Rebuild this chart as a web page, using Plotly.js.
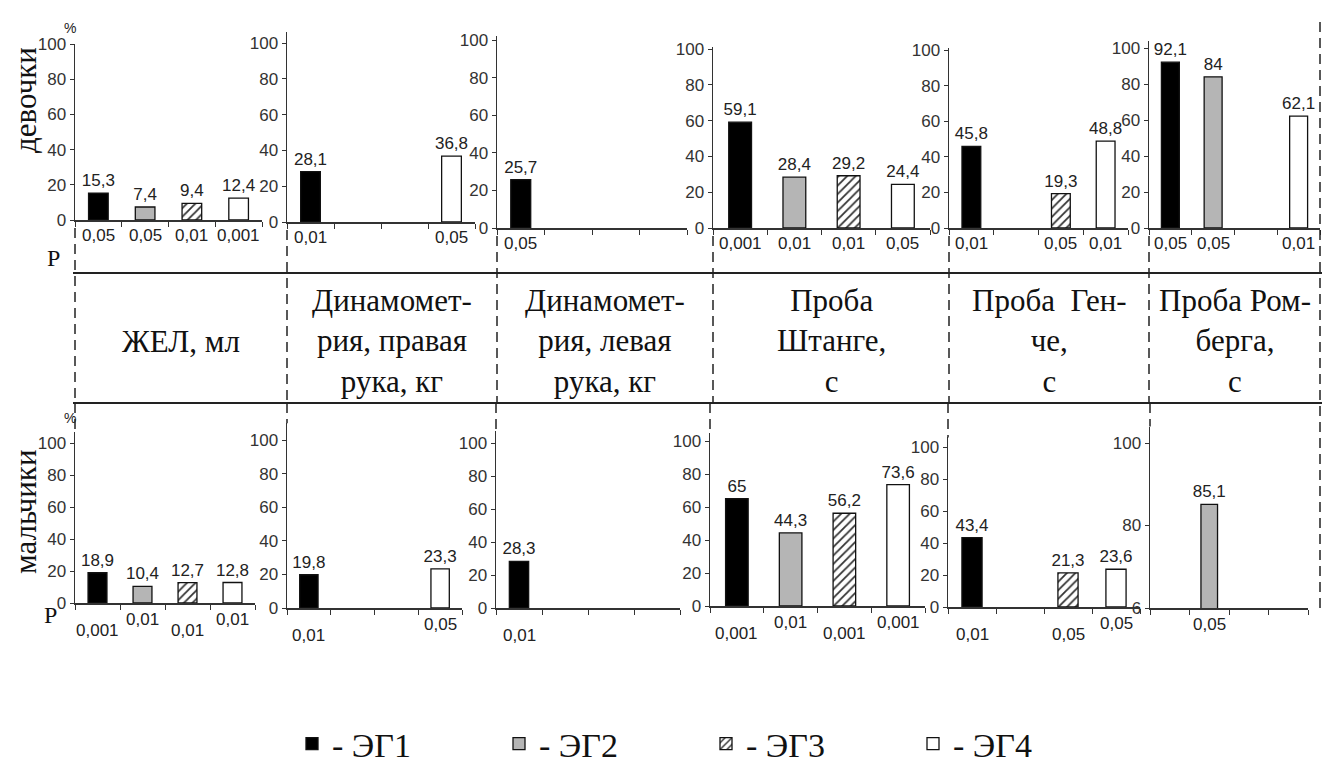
<!DOCTYPE html>
<html><head><meta charset="utf-8">
<script src="https://cdn.plot.ly/plotly-3.0.1.min.js"></script>
<style>html,body{margin:0;padding:0;background:#fff;overflow:hidden}#chart{width:1339px;height:765px}</style>
</head><body><div id="chart"></div>
<script>
// ---- data ----
const tests = ["ЖЕЛ, мл", "Динамомет-<br>рия, правая<br>рука, кг", "Динамомет-<br>рия, левая<br>рука, кг",
               "Проба<br>Штанге,<br>с", "Проба  Ген-<br>че,<br>с", "Проба Ром-<br>берга,<br>с"];
const groups = ["ЭГ1", "ЭГ2", "ЭГ3", "ЭГ4"];
const rowLabels = ["девочки", "мальчики"];

const girlsEG1 = [15.3, 28.1, 25.7, 59.1, 45.8, 92.1];
const girlsEG2 = [7.4, null, null, 28.4, null, 84];
const girlsEG3 = [9.4, null, null, 29.2, 19.3, null];
const girlsEG4 = [12.4, 36.8, null, 24.4, 48.8, 62.1];

const boysEG1 = [18.9, 19.8, 28.3, 65, 43.4, null];
const boysEG2 = [10.4, null, null, 44.3, null, 85.1];
const boysEG3 = [12.7, null, null, 56.2, 21.3, null];
const boysEG4 = [12.8, 23.3, null, 73.6, 23.6, null];

const girlsP1 = ["0,05", "0,01", "0,05", "0,001", "0,01", "0,05"];
const girlsP2 = ["0,05", null, null, "0,01", null, "0,05"];
const girlsP3 = ["0,01", null, null, "0,01", "0,05", null];
const girlsP4 = ["0,001", "0,05", null, "0,05", "0,01", "0,01"];

const boysP1 = ["0,001", "0,01", "0,01", "0,001", "0,01", null];
const boysP2 = ["0,01", null, null, "0,01", null, "0,05"];
const boysP3 = ["0,01", null, null, "0,001", "0,05", null];
const boysP4 = ["0,01", "0,05", null, "0,001", "0,05", null];

const yTicks = [0, 20, 40, 60, 80, 100];
const yTicksRomberg = [60, 80, 100];
const yTickTextRomberg = ["6", "80", "100"];

// ---- layout geometry (pixels) ----
const W = 1339, H = 765;
const geom = [
  [ {x0:75,x1:262,yb:220,yt:44,ymin:0,ymax:100},
    {x0:287,x1:475,yb:222,yt:43,ymin:0,ymax:106},
    {x0:497,x1:687,yb:228,yt:40,ymin:0,ymax:102},
    {x0:713,x1:930,yb:228,yt:49,ymin:0,ymax:101},
    {x0:949,x1:1128,yb:228,yt:50,ymin:0,ymax:101},
    {x0:1149,x1:1320,yb:228,yt:48,ymin:0,ymax:104} ],
  [ {x0:75,x1:255,yb:603,yt:443,ymin:0,ymax:107},
    {x0:287,x1:462,yb:608,yt:440,ymin:0,ymax:110},
    {x0:496,x1:680,yb:608,yt:443,ymin:0,ymax:107},
    {x0:710,x1:925,yb:606,yt:441,ymin:0,ymax:105},
    {x0:948,x1:1140,yb:607,yt:447,ymin:0,ymax:106},
    {x0:1150,x1:1308,yb:608,yt:443,ymin:60,ymax:104} ]
];

const values = [[girlsEG1, girlsEG2, girlsEG3, girlsEG4], [boysEG1, boysEG2, boysEG3, boysEG4]];
const pvals = [[girlsP1, girlsP2, girlsP3, girlsP4], [boysP1, boysP2, boysP3, boysP4]];

const fills = ["#000000", "#b5b5b5", "#ffffff", "#ffffff"];
const SANS = "Arial, 'Liberation Sans', sans-serif";
const SERIF = "'Times New Roman', Times, 'Liberation Serif', 'DejaVu Serif', 'Noto Serif', serif";
const fmt = v => String(v).replace(".", ",");
const px = x => x / W;
const py = y => 1 - y / H;

const traces = [];
const layout = {
  width: W, height: H,
  margin: {l: 0, r: 0, t: 0, b: 0, pad: 0, autoexpand: false},
  paper_bgcolor: "#fff", plot_bgcolor: "rgba(0,0,0,0)",
  barmode: "overlay",
  showlegend: true,
  legend: {
    orientation: "h", x: px(292), y: py(744), xanchor: "left", yanchor: "middle",
    font: {family: SERIF, size: 34, color: "#111"},
    entrywidth: 162, entrywidthmode: "pixels", itemwidth: 30,
    bgcolor: "rgba(0,0,0,0)", traceorder: "normal", itemclick: false
  },
  annotations: [], shapes: []
};

for (let r = 0; r < 2; r++) {
  for (let i = 0; i < 6; i++) {
    const n = r * 6 + i + 1;
    const xa = "xaxis" + (n > 1 ? n : ""), ya = "yaxis" + (n > 1 ? n : "");
    const xr = "x" + (n > 1 ? n : ""), yr = "y" + (n > 1 ? n : "");
    const g0 = geom[r][i];
    const pxPerUnit = (g0.yb - g0.yt) / (100 - g0.ymin);
    const topPix = g0.yb - pxPerUnit * (g0.ymax - g0.ymin);
    const romberg = (r === 1 && i === 5);
    layout[xa] = {
      domain: [px(g0.x0), px(g0.x1)], range: [0.5, 4.5], anchor: yr,
      showline: true, linecolor: "#333", linewidth: 1.5, showgrid: false, zeroline: false,
      tickmode: "array", tickvals: [0.5, 1.5, 2.5, 3.5, 4.5], showticklabels: false,
      ticks: "outside", ticklen: 5, tickcolor: "#333", fixedrange: true
    };
    layout[ya] = {
      domain: [py(g0.yb), py(topPix)], range: [g0.ymin, g0.ymax], anchor: xr,
      showline: true, linecolor: "#333", linewidth: 1.5, showgrid: false, zeroline: false,
      tickmode: "array", tickvals: romberg ? yTicksRomberg : yTicks,
      ticktext: romberg ? yTickTextRomberg : yTicks.map(String),
      ticks: "outside", ticklen: 4, tickcolor: "#333",
      tickfont: {family: SANS, size: 17, color: "#333"}, fixedrange: true
    };
    for (let g = 0; g < 4; g++) {
      const v = values[r][g][i];
      if (v === null) continue;
      const marker = {color: fills[g], line: {color: "#111", width: 1.3}};
      if (g === 2) marker.pattern = {shape: "/", fgcolor: "#333", bgcolor: "#ffffff", size: 6, solidity: 0.3};
      traces.push({
        type: "bar", x: [g + 1], y: [v], xaxis: xr, yaxis: yr, width: 0.42,
        name: "- " + groups[g], legendgroup: groups[g],
        showlegend: (r === 0 && i === 0),
        marker: marker,
        text: [fmt(v)], textposition: "outside", constraintext: "none",
        textfont: {family: SANS, size: 17, color: "#222"},
        cliponaxis: romberg, hoverinfo: "name+y"
      });
      const p = pvals[r][g][i];
      if (p) {
        const off = r === 0 ? 15 : (g % 2 === 0 ? 27 : 16);
        layout.annotations.push({
          xref: xr, yref: "paper", x: g + 1, y: py(g0.yb + off),
          text: p, showarrow: false, font: {family: SANS, size: 17, color: "#222"},
          xanchor: "center", yanchor: "middle"
        });
      }
    }
  }
}

// table: header cells
const colEdges = [75, 287, 497, 713, 949, 1149, 1320];
for (let i = 0; i < 6; i++) {
  layout.annotations.push({
    xref: "paper", yref: "paper", x: px((colEdges[i] + colEdges[i + 1]) / 2), y: py(341),
    text: tests[i], showarrow: false, align: "center",
    font: {family: SERIF, size: 31, color: "#111"}, xanchor: "center", yanchor: "middle"
  });
}
// table lines
[273, 403].forEach(y => layout.shapes.push({
  type: "line", xref: "paper", yref: "paper", x0: px(73), x1: px(1322), y0: py(y), y1: py(y),
  line: {color: "#222", width: 2}
}));
const dash = {color: "#222", width: 1.5, dash: "10px,6px"};
for (let i = 0; i < 6; i++) {
  const gt = geom[0][i], gb = geom[1][i];
  const gbTop = gb.yb - (gb.yb - gb.yt) / (100 - gb.ymin) * (gb.ymax - gb.ymin);
  layout.shapes.push({type: "line", xref: "paper", yref: "paper",
    x0: px(gt.x0), x1: px(gt.x0), y0: py(gt.yb + 8), y1: py(403), line: dash});
  layout.shapes.push({type: "line", xref: "paper", yref: "paper",
    x0: px(gb.x0), x1: px(gb.x0), y0: py(403), y1: py(gbTop), line: dash});
}
layout.shapes.push({type: "line", xref: "paper", yref: "paper",
  x0: px(1320), x1: px(1320), y0: py(22), y1: py(608), line: dash});

// row labels, % and P
const rowY = [100, 512];
for (let r = 0; r < 2; r++) {
  layout.annotations.push({xref: "paper", yref: "paper", x: px(26), y: py(rowY[r]), text: rowLabels[r],
    showarrow: false, textangle: -90, font: {family: SERIF, size: 31, color: "#111"},
    xanchor: "center", yanchor: "middle"});
}
[[62, 18], [62, 418]].forEach(([x, y]) => layout.annotations.push({xref: "paper", yref: "paper",
  x: px(x), y: py(y), text: "%", showarrow: false, font: {family: SANS, size: 14, color: "#222"}}));
[[45, 243], [42, 630]].forEach(([x, y]) => layout.annotations.push({xref: "paper", yref: "paper",
  x: px(x), y: py(y), text: "P", showarrow: false, font: {family: SERIF, size: 24, color: "#111"}}));

Plotly.newPlot("chart", traces, layout, {displayModeBar: false, staticPlot: true});
</script></body></html>
